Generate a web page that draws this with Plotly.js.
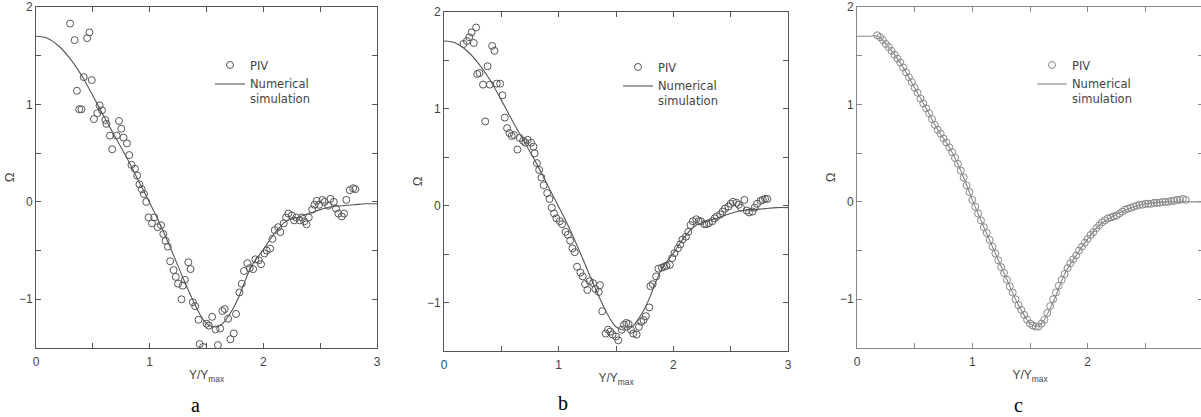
<!DOCTYPE html>
<html><head><meta charset="utf-8">
<script src="https://cdn.plot.ly/plotly-3.0.1.min.js"></script>
<style>html,body{margin:0;padding:0;overflow:hidden;background:#fff}#chart{width:1205px;height:417px}</style>
</head><body><div id="chart"></div>
<script>
// Numerical simulation curve (panels a and b)
const simX = [0,0.1,0.2,0.3,0.4,0.5,0.6,0.7,0.8,0.9,1.0,1.1,1.2,1.3,1.4,1.45,1.5,1.55,1.6,1.65,1.7,1.75,1.8,1.85,1.9,2.0,2.1,2.2,2.3,2.4,2.5,2.6,2.7,2.8,2.9,3.0];
const simY = [1.70,1.68,1.60,1.47,1.30,1.09,0.87,0.66,0.45,0.22,-0.01,-0.25,-0.52,-0.80,-1.06,-1.17,-1.25,-1.28,-1.28,-1.24,-1.16,-1.06,-0.93,-0.78,-0.65,-0.49,-0.32,-0.20,-0.16,-0.12,-0.08,-0.05,-0.04,-0.03,-0.02,-0.02];
// Numerical simulation curve (panel c, mostly hidden beneath the PIV circles)
const simCX = [0,0.1,0.18,0.3,0.4,0.5,0.6,0.7,0.8,0.9,1.0,1.1,1.2,1.3,1.4,1.5,1.55,1.6,1.7,1.8,1.9,2.0,2.1,2.2,2.3,2.4,2.5,2.7,2.9,3.0];
const simCY = [1.70,1.70,1.70,1.55,1.38,1.17,0.96,0.74,0.56,0.32,0.02,-0.26,-0.53,-0.80,-1.06,-1.25,-1.28,-1.25,-1.03,-0.74,-0.55,-0.38,-0.24,-0.16,-0.10,-0.05,-0.02,0.00,0.00,0.00];

// Panel a PIV
const pivAX = [0.30,0.34,0.45,0.47,0.42,0.49,0.36,0.38,0.40,0.51,0.54,0.56,0.58,0.61,0.62,0.65,0.67,0.71,0.73,0.75,0.77,0.80,0.82,0.84,0.87,0.89,0.91,0.93,0.95,0.97,0.99,1.02,1.04,1.07,1.10,1.12,1.14,1.16,1.18,1.21,1.23,1.25,1.28,1.29,1.31,1.34,1.36,1.38,1.40,1.43,1.44,1.47,1.50,1.52,1.55,1.58,1.60,1.62,1.64,1.66,1.69,1.71,1.74,1.76,1.79,1.81,1.83,1.86,1.88,1.91,1.93,1.96,1.98,2.01,2.03,2.06,2.08,2.10,2.13,2.15,2.18,2.20,2.22,2.25,2.27,2.29,2.32,2.34,2.36,2.38,2.40,2.43,2.45,2.47,2.49,2.52,2.54,2.57,2.59,2.62,2.64,2.66,2.69,2.71,2.73,2.76,2.79,2.81];
const pivAY = [1.83,1.66,1.68,1.74,1.28,1.25,1.14,0.95,0.95,0.85,0.91,0.99,0.94,0.84,0.80,0.68,0.54,0.68,0.83,0.75,0.66,0.60,0.48,0.38,0.34,0.27,0.18,0.13,0.08,0.00,-0.16,-0.22,-0.16,-0.26,-0.24,-0.33,-0.40,-0.46,-0.61,-0.70,-0.77,-0.84,-1.00,-0.86,-0.80,-0.62,-0.69,-1.03,-1.07,-1.21,-1.46,-1.49,-1.25,-1.27,-1.18,-1.31,-1.47,-1.30,-1.12,-1.10,-1.20,-1.41,-1.35,-1.15,-0.93,-0.84,-0.71,-0.63,-0.68,-0.69,-0.59,-0.60,-0.64,-0.53,-0.50,-0.48,-0.38,-0.29,-0.26,-0.31,-0.22,-0.16,-0.12,-0.14,-0.19,-0.16,-0.19,-0.16,-0.20,-0.23,-0.16,-0.08,-0.03,0.01,-0.03,0.02,0.00,-0.04,0.03,0.00,-0.07,-0.12,-0.15,-0.12,0.02,0.12,0.14,0.13];

// Panel b PIV
const pivBX = [0.17,0.20,0.22,0.24,0.26,0.28,0.29,0.31,0.34,0.36,0.38,0.40,0.42,0.44,0.46,0.49,0.51,0.53,0.55,0.57,0.59,0.61,0.64,0.66,0.69,0.71,0.73,0.76,0.78,0.79,0.81,0.83,0.85,0.87,0.90,0.92,0.94,0.96,0.98,1.01,1.03,1.06,1.08,1.10,1.12,1.14,1.16,1.19,1.21,1.23,1.25,1.27,1.30,1.32,1.35,1.36,1.38,1.41,1.43,1.45,1.47,1.50,1.52,1.55,1.57,1.59,1.61,1.63,1.65,1.68,1.70,1.72,1.74,1.76,1.79,1.80,1.82,1.85,1.87,1.90,1.92,1.94,1.97,1.99,2.01,2.04,2.06,2.08,2.11,2.13,2.15,2.17,2.20,2.22,2.24,2.27,2.29,2.31,2.34,2.36,2.38,2.41,2.43,2.45,2.48,2.50,2.52,2.55,2.57,2.59,2.62,2.64,2.66,2.69,2.71,2.73,2.76,2.78,2.80,2.82];
const pivBY = [1.67,1.70,1.74,1.79,1.68,1.84,1.36,1.37,1.25,0.87,1.44,1.25,1.65,1.60,1.26,1.26,1.14,0.91,0.80,0.75,0.72,0.73,0.58,0.70,0.67,0.65,0.68,0.65,0.61,0.54,0.44,0.37,0.29,0.21,0.13,0.07,-0.02,-0.08,-0.13,-0.16,-0.19,-0.27,-0.30,-0.36,-0.44,-0.48,-0.63,-0.69,-0.73,-0.81,-0.87,-0.78,-0.80,-0.86,-0.89,-0.82,-1.09,-1.32,-1.28,-1.30,-1.33,-1.35,-1.39,-1.28,-1.23,-1.21,-1.22,-1.28,-1.32,-1.33,-1.25,-1.20,-1.18,-1.14,-1.05,-0.83,-0.81,-0.73,-0.65,-0.64,-0.63,-0.62,-0.61,-0.54,-0.49,-0.44,-0.40,-0.35,-0.32,-0.27,-0.20,-0.16,-0.14,-0.16,-0.16,-0.19,-0.19,-0.18,-0.16,-0.13,-0.11,-0.09,-0.06,-0.03,-0.01,0.02,0.04,0.03,0.01,-0.02,0.06,-0.05,-0.07,-0.06,-0.02,0.02,0.05,0.06,0.07,0.07];

// Panel c PIV
const pivCX = [0.175,0.2,0.225,0.25,0.275,0.3,0.325,0.35,0.375,0.4,0.425,0.45,0.475,0.5,0.525,0.55,0.575,0.6,0.625,0.65,0.675,0.7,0.725,0.75,0.775,0.8,0.825,0.85,0.875,0.9,0.925,0.95,0.975,1.0,1.025,1.05,1.075,1.1,1.125,1.15,1.175,1.2,1.225,1.25,1.275,1.3,1.325,1.35,1.375,1.4,1.425,1.45,1.475,1.5,1.525,1.55,1.575,1.6,1.625,1.65,1.675,1.7,1.725,1.75,1.775,1.8,1.825,1.85,1.875,1.9,1.925,1.95,1.975,2.0,2.025,2.05,2.075,2.1,2.125,2.15,2.175,2.2,2.225,2.25,2.275,2.3,2.325,2.35,2.375,2.4,2.425,2.45,2.475,2.5,2.525,2.55,2.575,2.6,2.625,2.65,2.675,2.7,2.725,2.75,2.775,2.8,2.825,2.85];
const pivCY = [1.71,1.69,1.66,1.62,1.59,1.55,1.51,1.47,1.43,1.38,1.33,1.28,1.23,1.17,1.12,1.06,1.01,0.96,0.91,0.85,0.79,0.74,0.70,0.65,0.61,0.56,0.51,0.45,0.39,0.32,0.25,0.17,0.10,0.02,-0.05,-0.12,-0.19,-0.26,-0.32,-0.39,-0.46,-0.53,-0.60,-0.67,-0.73,-0.80,-0.87,-0.93,-1.00,-1.06,-1.11,-1.16,-1.21,-1.25,-1.27,-1.28,-1.28,-1.25,-1.21,-1.14,-1.07,-1.00,-0.93,-0.86,-0.80,-0.74,-0.68,-0.63,-0.59,-0.55,-0.50,-0.46,-0.42,-0.38,-0.34,-0.31,-0.27,-0.24,-0.21,-0.19,-0.17,-0.16,-0.15,-0.14,-0.12,-0.10,-0.08,-0.07,-0.06,-0.05,-0.04,-0.03,-0.03,-0.02,-0.02,-0.02,-0.01,-0.01,-0.01,0.00,0.00,0.00,0.01,0.01,0.02,0.02,0.03,0.02];

const captions = ['a','b','c'];
const seriesNames = ['PIV','Numerical<br>simulation'];

const W = 1205, H = 417;
const px = v => v / W;
const py = v => 1 - v / H;

const panels = [
  {x0:36, x1:377, y0:7, y1:348, col:'#555', cap:[195,405], leg:[210,51], piv:[pivAX,pivAY], sim:[simX,simY]},
  {x0:444, x1:788, y0:12, y1:351, col:'#555', cap:[563,403], leg:[618,53], piv:[pivBX,pivBY], sim:[simX,simY]},
  {x0:857, x1:1203, y0:7, y1:348, col:'#888', cap:[1018,405], leg:[1032,51], piv:[pivCX,pivCY], sim:[simCX,simCY]}
];

const tickFont = {family:'Liberation Sans, Arial, sans-serif', size:12, color:'#444'};
const data = [];
const layout = {width:W, height:H, margin:{l:0,r:0,t:0,b:0}, paper_bgcolor:'#fff', plot_bgcolor:'#fff', showlegend:true, annotations:[]};

panels.forEach((p, i) => {
  const n = i === 0 ? '' : String(i + 1);
  const xa = 'x' + n, ya = 'y' + n;
  const lg = 'legend' + n;
  data.push({x:p.piv[0], y:p.piv[1], xaxis:xa, yaxis:ya, type:'scatter', mode:'markers', name:seriesNames[0], legend:lg,
    marker:{symbol:'circle-open', size:7, color:p.col, line:{width:1, color:p.col}}});
  data.push({x:p.sim[0], y:p.sim[1], xaxis:xa, yaxis:ya, type:'scatter', mode:'lines', name:seriesNames[1], legend:lg,
    line:{color:p.col, width:1.1, shape:'spline', smoothing:1}});
  const common = {showline:true, linecolor:p.col, linewidth:1, mirror:'ticks', ticks:'inside', ticklen:5, tickcolor:p.col,
    showgrid:false, zeroline:false, tickfont:tickFont, fixedrange:true, tickmode:'linear', tick0:0, dtick:1,
    minor:{dtick:0.5, tick0:0, ticks:'inside', ticklen:5, tickcolor:p.col, showgrid:false}};
  layout['xaxis' + n] = Object.assign({}, common, {domain:[px(p.x0), px(p.x1)], anchor:ya, range:[0,3], ticklabelstandoff:3,
    title:{text:'Y/Y<sub>max</sub>', font:{family:'Liberation Sans, Arial, sans-serif', size:12, color:'#444'}, standoff:2}});
  layout['yaxis' + n] = Object.assign({}, common, {domain:[py(p.y1), py(p.y0)], anchor:xa, range:[-1.5,2],
    title:{text:'Ω', font:{family:'Liberation Sans, Arial, sans-serif', size:13, color:'#444'}, standoff:1}});
  layout[lg] = {x:px(p.leg[0]), y:py(p.leg[1]), xanchor:'left', yanchor:'top', bgcolor:'rgba(0,0,0,0)', borderwidth:0,
    font:{family:'DejaVu Sans, sans-serif', size:11.5, color:'#444'}, valign:'top', tracegroupgap:0, traceorder:'normal'};
  layout.annotations.push({text:captions[i], x:px(p.cap[0]), y:py(p.cap[1]), xref:'paper', yref:'paper',
    xanchor:'center', yanchor:'middle', showarrow:false, font:{family:'Liberation Serif, Times New Roman, serif', size:20, color:'#000'}});
});

Plotly.newPlot('chart', data, layout, {displayModeBar:false, staticPlot:true});
</script></body></html>
